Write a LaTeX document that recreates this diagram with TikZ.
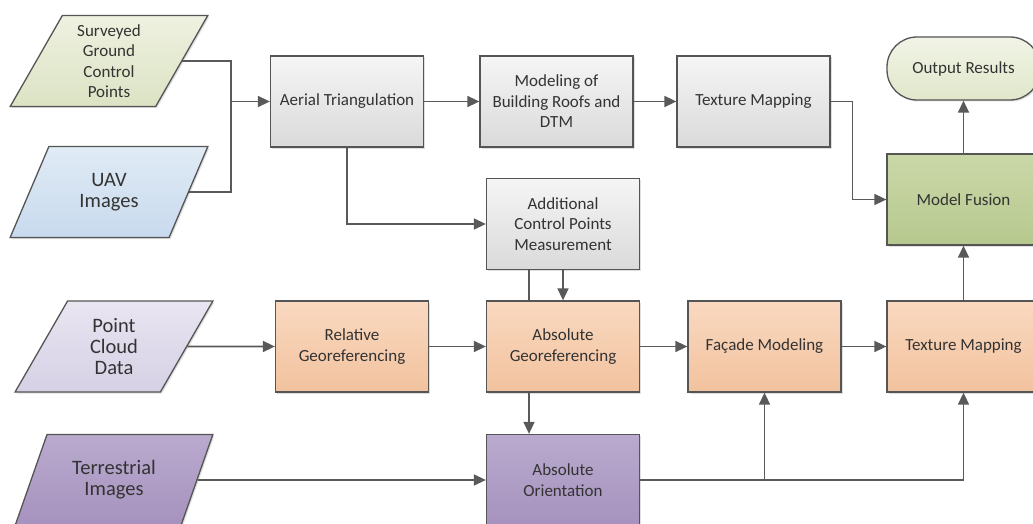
\documentclass[tikz,border=0pt]{standalone}
\usepackage{fontspec}
\setmainfont{Carlito}
\usetikzlibrary{arrows.meta,shapes.geometric,shadows}

\definecolor{edgec}{HTML}{555555}
\definecolor{linkc}{HTML}{595959}
\definecolor{txtc}{HTML}{333333}
\definecolor{grayT}{HTML}{F5F5F5}
\definecolor{grayB}{HTML}{DADADA}
\definecolor{orngT}{HTML}{F9D9C0}
\definecolor{orngB}{HTML}{F2C29E}
\definecolor{purpT}{HTML}{B9AACE}
\definecolor{purpB}{HTML}{A692BE}
\definecolor{lavT}{HTML}{E9E5F1}
\definecolor{lavB}{HTML}{D6D0E5}
\definecolor{bluT}{HTML}{E0EBF5}
\definecolor{bluB}{HTML}{C8DAEE}
\definecolor{gcpT}{HTML}{EEF1E0}
\definecolor{gcpB}{HTML}{DCE3C4}
\definecolor{fusT}{HTML}{CAD8A8}
\definecolor{fusB}{HTML}{B7C88E}
\definecolor{outT}{HTML}{F1F4E6}
\definecolor{outB}{HTML}{E0E7CA}

\begin{document}
\begin{tikzpicture}[x=1pt, y=-1pt,
            font=\fontsize{17}{20.5}\selectfont,
            boxbase/.style={draw=edgec, line width=1.3pt, text=txtc, align=center,
                inner sep=2pt, drop shadow={opacity=0.25, shadow xshift=1.5pt, shadow yshift=-1.5pt}},
            procbox/.style={boxbase, rectangle, minimum width=153pt, minimum height=91pt},
            graybox/.style={procbox, top color=grayT, bottom color=grayB},
            orngbox/.style={procbox, top color=orngT, bottom color=orngB},
            purpbox/.style={procbox, top color=purpT, bottom color=purpB},
            fusbox/.style={procbox, top color=fusT, bottom color=fusB},
            datain/.style={boxbase, trapezium, trapezium left angle=64, trapezium right angle=116,
                trapezium stretches=true, minimum width=198pt, minimum height=91pt},
            bigtxt/.style={font=\fontsize{20.5}{21}\selectfont},
            link/.style={draw=linkc, line width=1.6pt, -{Triangle[length=12pt,width=11pt]}},
            plain/.style={draw=linkc, line width=1.6pt}]

            % Page
            \fill[white] (0,0) rectangle (1033,524);
            \useasboundingbox (0,0) rectangle (1033,524);

            % Input data
            \node[datain, top color=gcpT, bottom color=gcpB] (gcp) at (109,61) {Surveyed\\Ground\\Control\\Points};
            \node[datain, top color=bluT, bottom color=bluB, bigtxt] (uav) at (109,192) {UAV\\Images};
            \node[datain, top color=lavT, bottom color=lavB, bigtxt] (pcd) at (114,346.5) {Point\\Cloud\\Data};
            \node[datain, top color=purpT, bottom color=purpB, bigtxt] (ter) at (114,480) {Terrestrial\\Images};

            % Aerial branch
            \node[graybox] (aer) at (347,101.5) {Aerial Triangulation};
            \node[graybox] (roof) at (556.5,101.5) {Modeling of\\Building Roofs and\\DTM};
            \node[graybox] (texa) at (753.5,101.5) {Texture Mapping};
            \node[graybox] (acp) at (563,224) {Additional\\Control Points\\Measurement};

            % Terrestrial branch
            \node[orngbox] (rel) at (352,346.5) {Relative\\Georeferencing};
            \node[orngbox] (absg) at (563,346.5) {Absolute\\Georeferencing};
            \node[orngbox] (fac) at (764.5,346.5) {Façade Modeling};
            \node[orngbox] (texb) at (963.5,346.5) {Texture Mapping};
            \node[purpbox] (abso) at (563,480) {Absolute\\Orientation};

            % Fusion and output
            \node[fusbox] (fus) at (963.5,199.5) {Model Fusion};
            \node[boxbase, rectangle, rounded corners=30pt, minimum width=153pt, minimum height=63pt,
                top color=outT, bottom color=outB] (out) at (963.5,68.5) {Output Results};

            % Connectors
            \coordinate (join) at (231,101.5);
            \draw[plain] (gcp.east) -| (join);
            \draw[plain] (uav.east) -| (join);
            \draw[link] (join) -- (aer.west);
            \draw[link] (aer.east) -- (roof.west);
            \draw[link] (roof.east) -- (texa.west);
            \draw[link] (texa.east) -- ++(22,0) |- (fus.west);
            \draw[link] (aer.south) |- (acp.west);
            \draw[link] (fus.north) -- (out.south);

            \draw[link] (pcd.east) -- (rel.west);
            \draw[link] (rel.east) -- (absg.west);
            \draw[link] (acp.south) -- (absg.north);
            \draw[plain] ([xshift=-34pt]acp.south) -- ([xshift=-34pt]absg.north);
            \draw[link] ([xshift=-34pt]absg.south) -- ([xshift=-34pt]abso.north);
            \draw[link] (absg.east) -- (fac.west);
            \draw[link] (fac.east) -- (texb.west);
            \draw[link] (texb.north) -- (fus.south);

            \draw[link] (ter.east) -- (abso.west);
            \draw[link] (abso.east) -| (fac.south);
            \draw[link] (abso.east) -| (texb.south);

        \end{tikzpicture}
\end{document}
